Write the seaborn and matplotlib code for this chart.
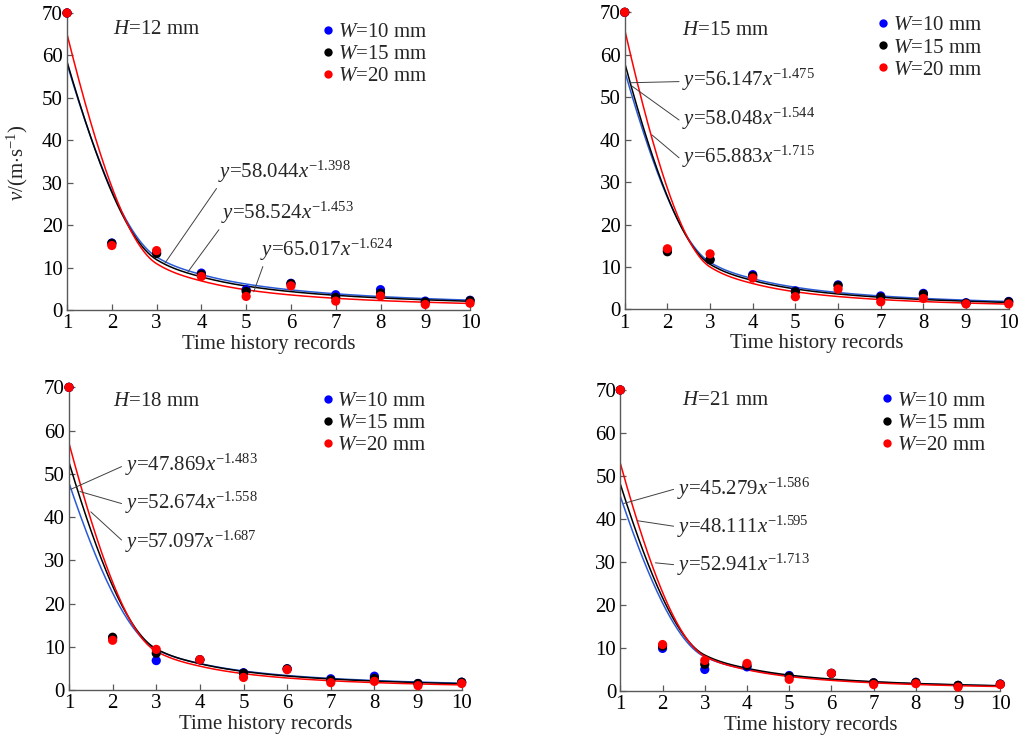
import numpy as np
import pandas as pd
import matplotlib
matplotlib.use("Agg")
import matplotlib.pyplot as plt
from matplotlib.lines import Line2D
import seaborn as sns

# ---------------- data ----------------
x_records = [1, 2, 3, 4, 5, 6, 7, 8, 9, 10]
H_values = [12, 15, 18, 21]
W_values = [10, 15, 20]

v_H12_W10 = [70, 15.8, 13.5, 8.7, 4.8, 6.3, 3.6, 4.8, 2.1, 2.3]
v_H12_W15 = [70, 15.7, 13.3, 8.4, 4.4, 6.2, 3.0, 4.0, 1.9, 2.2]
v_H12_W20 = [70, 15.2, 14.0, 7.9, 3.2, 5.7, 2.1, 3.3, 1.3, 1.6]
v_H15_W10 = [70, 13.8, 11.8, 8.2, 4.4, 5.8, 3.2, 3.8, 1.6, 1.9]
v_H15_W15 = [70, 13.6, 11.7, 7.9, 4.2, 5.6, 2.9, 3.6, 1.5, 1.8]
v_H15_W20 = [70, 14.3, 13.1, 7.4, 3.0, 4.8, 1.8, 2.6, 1.3, 1.3]
v_H18_W10 = [70, 12.0, 6.8, 7.0, 4.0, 4.9, 2.6, 3.2, 1.5, 1.8]
v_H18_W15 = [70, 12.2, 8.5, 7.0, 3.9, 4.9, 2.3, 2.7, 1.5, 1.8]
v_H18_W20 = [70, 11.5, 9.4, 7.0, 2.9, 4.7, 1.7, 2.0, 1.0, 1.5]
v_H21_W10 = [70, 9.9, 5.0, 5.6, 3.6, 4.1, 1.9, 2.0, 1.3, 1.6]
v_H21_W15 = [70, 10.4, 6.2, 5.9, 3.4, 4.1, 1.9, 2.0, 1.3, 1.6]
v_H21_W20 = [70, 10.8, 7.1, 6.4, 2.7, 4.1, 1.5, 1.7, 0.9, 1.5]

# fitted power laws y = a * x^b  (W = 10, 15, 20)
fit_a_H12 = [58.044, 58.524, 65.017]
fit_b_H12 = [-1.398, -1.453, -1.624]
fit_a_H15 = [56.147, 58.048, 65.883]
fit_b_H15 = [-1.475, -1.544, -1.715]
fit_a_H18 = [47.869, 52.674, 57.097]
fit_b_H18 = [-1.483, -1.558, -1.687]
fit_a_H21 = [45.279, 48.111, 52.941]
fit_b_H21 = [-1.586, -1.595, -1.713]

curve_knots = [1, 3, 4, 5, 6, 7, 8, 9, 10]

points = {12: [v_H12_W10, v_H12_W15, v_H12_W20],
          15: [v_H15_W10, v_H15_W15, v_H15_W20],
          18: [v_H18_W10, v_H18_W15, v_H18_W20],
          21: [v_H21_W10, v_H21_W15, v_H21_W20]}
fits = {12: (fit_a_H12, fit_b_H12), 15: (fit_a_H15, fit_b_H15),
        18: (fit_a_H18, fit_b_H18), 21: (fit_a_H21, fit_b_H21)}


def pchip(xk, yk, xq):
    xk = np.asarray(xk, float); yk = np.asarray(yk, float)
    h = np.diff(xk); delta = np.diff(yk) / h
    n = len(xk); d = np.zeros(n)
    for k in range(1, n - 1):
        if delta[k - 1] * delta[k] > 0:
            w1 = 2 * h[k] + h[k - 1]; w2 = h[k] + 2 * h[k - 1]
            d[k] = (w1 + w2) / (w1 / delta[k - 1] + w2 / delta[k])
    def endslope(h0, h1, d0, d1):
        s = ((2 * h0 + h1) * d0 - h0 * d1) / (h0 + h1)
        if np.sign(s) != np.sign(d0):
            s = 0.0
        elif np.sign(d0) != np.sign(d1) and abs(s) > abs(3 * d0):
            s = 3 * d0
        return s
    d[0] = endslope(h[0], h[1], delta[0], delta[1])
    d[-1] = endslope(h[-1], h[-2], delta[-1], delta[-2])
    idx = np.clip(np.searchsorted(xk, xq) - 1, 0, n - 2)
    t = (xq - xk[idx]) / h[idx]
    h00 = 2 * t**3 - 3 * t**2 + 1; h10 = t**3 - 2 * t**2 + t
    h01 = -2 * t**3 + 3 * t**2; h11 = t**3 - t**2
    return (h00 * yk[idx] + h10 * h[idx] * d[idx] + h01 * yk[idx + 1]
            + h11 * h[idx] * d[idx + 1])


# ---------------- style ----------------
sns.set_style("ticks")
plt.rcParams["font.family"] = ["Liberation Serif", "DejaVu Serif"]
plt.rcParams["mathtext.fontset"] = "custom"
plt.rcParams["mathtext.rm"] = "Liberation Serif"
plt.rcParams["mathtext.it"] = "Liberation Serif:italic"
plt.rcParams["mathtext.bf"] = "Liberation Serif:bold"

FS = 15
pt_colors = ["#0000ff", "#000000", "#ff0000"]
ln_colors = ["#2a5bd7", "#000000", "#ff0000"]
spine_c = "0.35"

fig = plt.figure(figsize=(10.25, 7.39), dpi=100)
axes_rect = {12: [0.0654, 0.5805, 0.3932, 0.4019],
             15: [0.6095, 0.5812, 0.3746, 0.4022],
             18: [0.0673, 0.0663, 0.3831, 0.4096],
             21: [0.6052, 0.0650, 0.3707, 0.4073]}
legend_anchor = {12: (0.633, 0.968), 15: (0.657, 0.988),
                 18: (0.644, 0.987), 21: (0.686, 0.996)}
h_label_pos = {12: (2.03, 66.0), 15: (2.35, 65.6), 18: (2.02, 66.8), 21: (2.46, 67.5)}
# (text x, text y, target x, target y, relpos)
eq_pos = {
    12: [(4.37, 32.5, 3.19, 11.1, (0.02, 0.1)),
         (4.43, 22.8, 3.70, 9.0, (0.02, 0.1)),
         (5.32, 14.1, 5.17, 4.3, (0.03, 0.05))],
    15: [(2.35, 54.0, 1.12, 53.4, (0, 0.45)),
         (2.35, 45.0, 1.17, 52.6, (0, 0.35)),
         (2.35, 36.0, 1.64, 41.1, (0, 0.35))],
    18: [(2.28, 52.0, 1.04, 46.4, (0, 0.5)),
         (2.28, 43.2, 1.25, 45.9, (0, 0.45)),
         (2.28, 34.3, 1.50, 41.2, (0, 0.45))],
    21: [(2.34, 47.1, 1.08, 43.6, (0, 0.5)),
         (2.34, 38.2, 1.40, 39.6, (0, 0.5)),
         (2.34, 29.3, 1.83, 29.8, (0, 0.5))],
}

xfine = np.linspace(1, 10, 400)

for H in H_values:
    ax = fig.add_axes(axes_rect[H])
    a_list, b_list = fits[H]

    # fitted curves
    rows = []
    for W, a, b in zip(W_values, a_list, b_list):
        ky = [a * k ** b for k in curve_knots]
        yf = pchip(curve_knots, ky, xfine)
        rows.append(pd.DataFrame({"x": xfine, "v": yf, "W": W}))
    cdf = pd.concat(rows, ignore_index=True)
    sns.lineplot(data=cdf, x="x", y="v", hue="W", hue_order=W_values,
                 palette=ln_colors, estimator=None, sort=False, lw=1.1,
                 legend=False, ax=ax, zorder=2)

    # measured points
    prow = []
    for W, vals in zip(W_values, points[H]):
        prow.append(pd.DataFrame({"x": x_records, "v": vals, "W": W}))
    pdf = pd.concat(prow, ignore_index=True)
    sns.scatterplot(data=pdf, x="x", y="v", hue="W", hue_order=W_values,
                    palette=pt_colors, s=44, linewidth=0, legend=False,
                    ax=ax, zorder=3, clip_on=False)

    ax.set_xlim(1, 10)
    ax.set_ylim(0, 70)
    ax.set_xticks(x_records)
    ax.set_yticks(range(0, 71, 10))
    sns.despine(ax=ax)
    for sp in ("left", "bottom"):
        ax.spines[sp].set_color(spine_c)
        ax.spines[sp].set_linewidth(1.0)
    ax.tick_params(direction="in", length=4, width=0.9, color=spine_c,
                   labelsize=FS, pad=3, labelcolor="black")
    ax.set_xlabel("Time history records", fontsize=FS, labelpad=1)
    if H == 12:
        ax.set_ylabel(r"$v$/(m$\cdot$s$^{-1}$)", fontsize=FS)
        ax.yaxis.set_label_coords(-0.093, 0.495)
    else:
        ax.set_ylabel("")

    hx, hy = h_label_pos[H]
    ax.text(hx, hy, r"$H$=%d mm" % H, fontsize=FS, ha="left", va="center")

    for (tx, ty, px, py, rp), a, b in zip(eq_pos[H], a_list, b_list):
        label = r"$y$=%.3f$x^{%.3f}$" % (a, b)
        label = label.replace("{-", "{\u2212")
        ax.annotate(label, xy=(px, py), xytext=(tx, ty), fontsize=FS,
                    ha="left", va="center", zorder=4,
                    arrowprops=dict(arrowstyle="-", lw=0.7, color="0.25",
                                    relpos=rp, shrinkA=0, shrinkB=0))

    handles = [Line2D([], [], marker="o", ls="", color=c, markersize=6,
                      markeredgewidth=0) for c in pt_colors]
    labels = [r"$W$=%d mm" % W for W in W_values]
    ax.legend(handles, labels, loc="upper left",
              bbox_to_anchor=legend_anchor[H], frameon=False, fontsize=FS,
              handlelength=0.6, handletextpad=0.15, labelspacing=0.12,
              borderpad=0, borderaxespad=0)

fig.savefig("out.png", dpi=100)
